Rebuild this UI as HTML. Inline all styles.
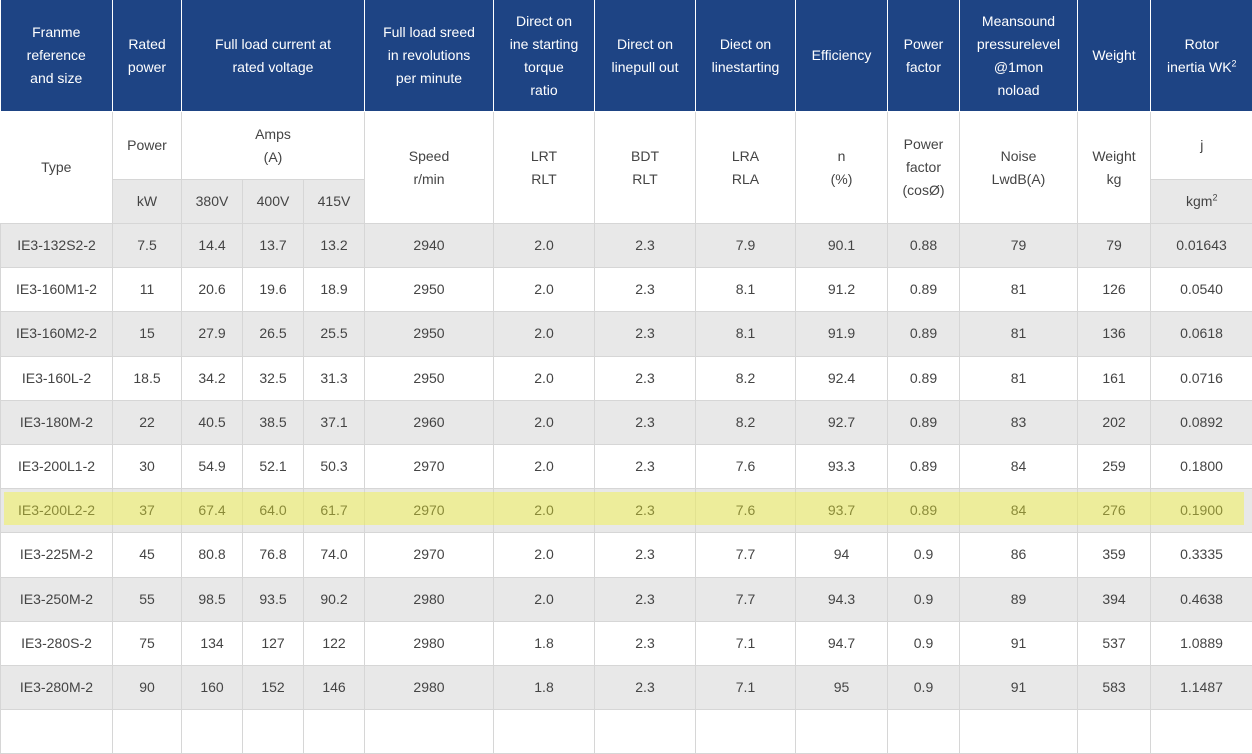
<!DOCTYPE html>
<html><head><meta charset="utf-8"><style>
body{margin:0;width:1252px;height:711px;overflow:hidden;background:#fff;font-family:"Liberation Sans",Arial,sans-serif;position:relative}
table{border-collapse:collapse;table-layout:fixed;width:1252px;font-size:14px;color:#444}
td{border:1px solid #d6d6d6;text-align:center;vertical-align:middle;padding:0;line-height:23px}
tr.h td{background:#1e4484;color:#fff;border-color:#fff;border-top:none;height:111px}
tr.g td{background:#e8e8e8}
tr.d td{height:43.2px}
td.s{background:#e8e8e8}
sup{font-size:9px;line-height:0}
#hl{position:absolute;left:4px;top:492px;width:1240px;height:33px;background:rgba(245,245,40,0.4)}
</style></head><body>
<table>
<colgroup><col style="width:112px"><col style="width:69px"><col style="width:61px"><col style="width:61px"><col style="width:61px"><col style="width:129px"><col style="width:101px"><col style="width:101px"><col style="width:100px"><col style="width:92px"><col style="width:72px"><col style="width:118px"><col style="width:73px"><col style="width:102px"></colgroup>
<tr class="h"><td style="border-left:none">Franme<br>reference<br>and size</td><td>Rated<br>power</td><td colspan="3">Full load current at<br>rated voltage</td><td>Full load sreed<br>in revolutions<br>per minute</td><td>Direct on<br>ine starting<br>torque<br>ratio</td><td>Direct on<br>linepull out</td><td>Diect on<br>linestarting</td><td>Efficiency</td><td>Power<br>factor</td><td>Meansound<br>pressurelevel<br>@1mon<br>noload</td><td>Weight</td><td style="border-right:none">Rotor<br>inertia WK<sup>2</sup></td></tr>
<tr style="height:68px"><td rowspan="2" style="border-left:none">Type</td><td>Power</td><td colspan="3">Amps<br>(A)</td><td rowspan="2">Speed<br>r/min</td><td rowspan="2">LRT<br>RLT</td><td rowspan="2">BDT<br>RLT</td><td rowspan="2">LRA<br>RLA</td><td rowspan="2">n<br>(%)</td><td rowspan="2">Power<br>factor<br>(cosØ)</td><td rowspan="2">Noise<br>LwdB(A)</td><td rowspan="2">Weight<br>kg</td><td style="border-right:none">j</td></tr>
<tr style="height:44px"><td class="s">kW</td><td class="s">380V</td><td class="s">400V</td><td class="s">415V</td><td class="s" style="border-right:none">kgm<sup>2</sup></td></tr>
<tr class="d g"><td>IE3-132S2-2</td><td>7.5</td><td>14.4</td><td>13.7</td><td>13.2</td><td>2940</td><td>2.0</td><td>2.3</td><td>7.9</td><td>90.1</td><td>0.88</td><td>79</td><td>79</td><td>0.01643</td></tr>
<tr class="d"><td>IE3-160M1-2</td><td>11</td><td>20.6</td><td>19.6</td><td>18.9</td><td>2950</td><td>2.0</td><td>2.3</td><td>8.1</td><td>91.2</td><td>0.89</td><td>81</td><td>126</td><td>0.0540</td></tr>
<tr class="d g"><td>IE3-160M2-2</td><td>15</td><td>27.9</td><td>26.5</td><td>25.5</td><td>2950</td><td>2.0</td><td>2.3</td><td>8.1</td><td>91.9</td><td>0.89</td><td>81</td><td>136</td><td>0.0618</td></tr>
<tr class="d"><td>IE3-160L-2</td><td>18.5</td><td>34.2</td><td>32.5</td><td>31.3</td><td>2950</td><td>2.0</td><td>2.3</td><td>8.2</td><td>92.4</td><td>0.89</td><td>81</td><td>161</td><td>0.0716</td></tr>
<tr class="d g"><td>IE3-180M-2</td><td>22</td><td>40.5</td><td>38.5</td><td>37.1</td><td>2960</td><td>2.0</td><td>2.3</td><td>8.2</td><td>92.7</td><td>0.89</td><td>83</td><td>202</td><td>0.0892</td></tr>
<tr class="d"><td>IE3-200L1-2</td><td>30</td><td>54.9</td><td>52.1</td><td>50.3</td><td>2970</td><td>2.0</td><td>2.3</td><td>7.6</td><td>93.3</td><td>0.89</td><td>84</td><td>259</td><td>0.1800</td></tr>
<tr class="d g"><td>IE3-200L2-2</td><td>37</td><td>67.4</td><td>64.0</td><td>61.7</td><td>2970</td><td>2.0</td><td>2.3</td><td>7.6</td><td>93.7</td><td>0.89</td><td>84</td><td>276</td><td>0.1900</td></tr>
<tr class="d"><td>IE3-225M-2</td><td>45</td><td>80.8</td><td>76.8</td><td>74.0</td><td>2970</td><td>2.0</td><td>2.3</td><td>7.7</td><td>94</td><td>0.9</td><td>86</td><td>359</td><td>0.3335</td></tr>
<tr class="d g"><td>IE3-250M-2</td><td>55</td><td>98.5</td><td>93.5</td><td>90.2</td><td>2980</td><td>2.0</td><td>2.3</td><td>7.7</td><td>94.3</td><td>0.9</td><td>89</td><td>394</td><td>0.4638</td></tr>
<tr class="d"><td>IE3-280S-2</td><td>75</td><td>134</td><td>127</td><td>122</td><td>2980</td><td>1.8</td><td>2.3</td><td>7.1</td><td>94.7</td><td>0.9</td><td>91</td><td>537</td><td>1.0889</td></tr>
<tr class="d g"><td>IE3-280M-2</td><td>90</td><td>160</td><td>152</td><td>146</td><td>2980</td><td>1.8</td><td>2.3</td><td>7.1</td><td>95</td><td>0.9</td><td>91</td><td>583</td><td>1.1487</td></tr>
<tr class="d"><td></td><td></td><td></td><td></td><td></td><td></td><td></td><td></td><td></td><td></td><td></td><td></td><td></td><td></td></tr>
</table>
<div id="hl"></div>
</body></html>
